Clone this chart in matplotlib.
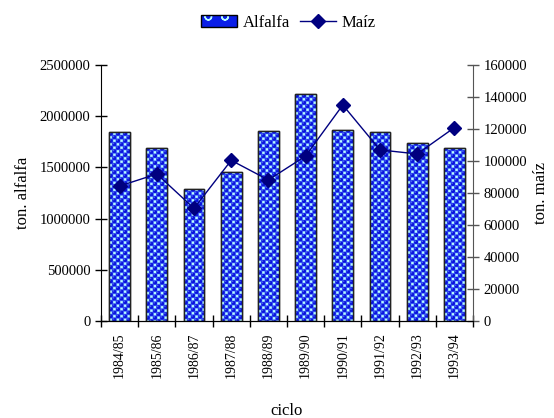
import matplotlib.pyplot as plt
import numpy as np
from matplotlib.patches import Patch
from matplotlib.ticker import FormatStrFormatter

plt.rcParams['font.family'] = ['Liberation Serif', 'DejaVu Serif']
plt.rcParams['hatch.linewidth'] = 1.0

ciclos = ['1984/85', '1985/86', '1986/87', '1987/88', '1988/89',
          '1989/90', '1990/91', '1991/92', '1992/93', '1993/94']
alfalfa = [1840000, 1685000, 1286000, 1451000, 1853000,
           2210000, 1863000, 1840000, 1739000, 1685000]
maiz = [84400, 91900, 70500, 100400, 88200,
        103100, 134900, 106900, 104400, 120800]

BLUE = '#0a1ee8'
CYAN = '#b8ffff'
BAR_W = 0.56


def bubble_texture(w_px, h_px, period=7.0):
    # blue bubbles on a checker with pale cyan squares, built at 2x resolution
    s = 2
    xs = (np.arange(int(w_px * s)) + 0.5) / s
    ys = (np.arange(int(h_px * s)) + 0.5) / s
    X, Y = np.meshgrid(xs, ys)
    u = np.mod(X, period)
    v = np.mod(Y, period)
    half = period / 2
    q = half / 2
    img = np.empty(X.shape + (3,))
    img[:] = np.array([50, 80, 250]) / 255
    sq = ((np.abs(u - 3 * q) < 1.35) & (np.abs(v - q) < 1.35)) | \
         ((np.abs(u - q) < 1.35) & (np.abs(v - 3 * q) < 1.35))
    img[sq] = np.array([184, 255, 255]) / 255
    d1 = np.hypot(u - q, v - q)
    d2 = np.hypot(u - 3 * q, v - 3 * q)
    img[(d1 < 2.1) | (d2 < 2.1)] = np.array([8, 18, 220]) / 255
    hl1 = np.hypot(u - q + 0.7, v - q + 0.7) < 0.7
    hl2 = np.hypot(u - 3 * q + 0.7, v - 3 * q + 0.7) < 0.7
    img[hl1 | hl2] = np.array([120, 150, 255]) / 255
    return img


fig = plt.figure(figsize=(5.54, 4.18), dpi=100)
ax = fig.add_axes([0.1823, 0.2309, 0.6715, 0.6143])
ax2 = ax.twinx()

x = np.arange(len(ciclos))
bars = ax.bar(x, alfalfa, width=BAR_W, color=BLUE, edgecolor='#222222',
              linewidth=1.0, zorder=2)

# fill each bar with the bubble texture, clipped to the bar
ax_w = 0.6715 * 554
ax_h = 0.6143 * 418
for b, val, xi in zip(bars, alfalfa, x):
    w_px = BAR_W / len(ciclos) * ax_w
    h_px = val / 2500000 * ax_h
    tex = bubble_texture(w_px, h_px)
    im = ax.imshow(tex, extent=(xi - BAR_W / 2, xi + BAR_W / 2, 0, val),
                   origin='upper', aspect='auto', interpolation='bilinear',
                   zorder=2.5)
    im.set_clip_path(b)
ax.bar(x, alfalfa, width=BAR_W, fill=False, edgecolor='#222222',
       linewidth=1.0, zorder=3)
ax.set_xlim(-0.5, len(ciclos) - 0.5)
ax.set_ylim(0, 2500000)
ax2.set_ylim(0, 160000)

ax2.plot(x, maiz, color='#000080', marker='D', markersize=7, linewidth=1.0,
         label='Maíz', zorder=4)

ax.set_yticks(np.arange(0, 2500001, 500000))
ax2.set_yticks(np.arange(0, 160001, 20000))
ax.yaxis.set_major_formatter(FormatStrFormatter('%d'))
ax2.yaxis.set_major_formatter(FormatStrFormatter('%d'))

ax.set_xticks(x)
ax.set_xticklabels(ciclos, rotation=90, fontsize=10)
ax.set_xticks(np.arange(-0.5, len(ciclos), 1.0), minor=True)
ax.tick_params(axis='x', which='major', length=0, pad=8)
ax.tick_params(axis='x', which='minor', direction='inout', length=8, width=1)
ax.tick_params(axis='y', direction='inout', length=8, width=1, labelsize=10.5)
ax2.tick_params(axis='y', direction='inout', length=8, width=1, labelsize=10.5,
                color='#555555')

for a in (ax, ax2):
    a.spines['top'].set_visible(False)
ax.spines['right'].set_visible(False)
ax2.spines['left'].set_visible(False)
ax2.spines['right'].set_color('#555555')

ax.set_ylabel('ton. alfalfa', fontsize=12, labelpad=6)
ax2.set_ylabel('ton. maíz', fontsize=12, labelpad=4)
ax.set_xlabel('ciclo', fontsize=12, labelpad=18)

ax.set_zorder(ax2.get_zorder() - 1)
ax2.patch.set_visible(False)

# legend key: blue fill with cyan rings, black outline on top
alf_fill = Patch(facecolor=BLUE, edgecolor=CYAN, hatch='o', linewidth=0)
alf_edge = Patch(facecolor='none', edgecolor='black', linewidth=1.0)
h2, l2 = ax2.get_legend_handles_labels()
fig.legend([(alf_fill, alf_edge)] + h2, ['Alfalfa'] + l2, loc='upper center',
           bbox_to_anchor=(0.52, 1.0), ncol=2, frameon=False, fontsize=12,
           handlelength=2.2, columnspacing=0.6, handletextpad=0.3)

fig.savefig('out.png', dpi=100)
